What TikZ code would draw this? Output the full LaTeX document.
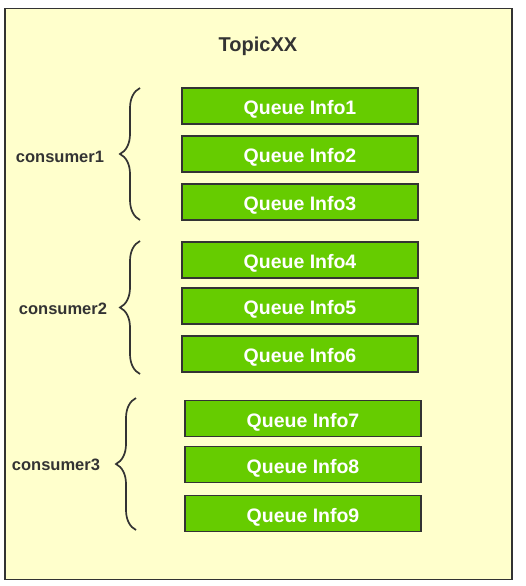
\documentclass[tikz,border=0pt]{standalone}
\usepackage{fontspec}
\setmainfont{Liberation Sans}
\usetikzlibrary{decorations.pathreplacing}
\definecolor{bgyellow}{HTML}{FFFFCC}
\definecolor{qgreen}{HTML}{66CC00}
\definecolor{edge}{HTML}{333333}
\tikzset{
  qbox/.style={draw=edge, line width=1.8pt, fill=qgreen, minimum width=236pt, minimum height=36pt, inner sep=0pt, text height=17.5pt, text depth=0pt, text=white, font=\fontsize{19.5}{22}\selectfont\bfseries},
  lbl/.style={font=\fontsize{16.5}{19}\selectfont\bfseries, text=edge, inner sep=0pt},
  curly/.style={draw=edge, line width=1.7pt, decorate, decoration={brace, amplitude=20pt, aspect=0.5}},
}
\begin{document}
\begin{tikzpicture}[x=1pt,y=-1pt]
\useasboundingbox (0,0) rectangle (525,586);
\node[draw=edge, line width=1.6pt, fill=bgyellow, minimum width=507pt, minimum height=571pt, inner sep=0pt] (frame) at (258.5,294) {};
\node[font=\fontsize{20}{23}\selectfont\bfseries, text=edge] (topic) at (258,46.5) {TopicXX};
\node[qbox] (q1) at (300,106) {Queue Info1};
\node[qbox] (q2) at (300,154) {Queue Info2};
\node[qbox] (q3) at (300,202) {Queue Info3};
\node[qbox] (q4) at (300,260) {Queue Info4};
\node[qbox] (q5) at (300,306) {Queue Info5};
\node[qbox] (q6) at (300,354) {Queue Info6};
\node[qbox] (q7) at (303,418.5) {Queue Info7};
\node[qbox] (q8) at (303,464.5) {Queue Info8};
\node[qbox] (q9) at (303,513.5) {Queue Info9};
\coordinate (b1t) at (140,88); \coordinate (b1b) at (140,220);
\coordinate (b2t) at (140,241); \coordinate (b2b) at (140,374);
\coordinate (b3t) at (136,398); \coordinate (b3b) at (136,530);
\draw[curly] (b1b) -- (b1t);
\draw[curly] (b2b) -- (b2t);
\draw[curly] (b3b) -- (b3t);
\node[lbl] (c1) at (60,157) {consumer1};
\node[lbl] (c2) at (63,309) {consumer2};
\node[lbl] (c3) at (56,465) {consumer3};
\end{tikzpicture}
\end{document}
